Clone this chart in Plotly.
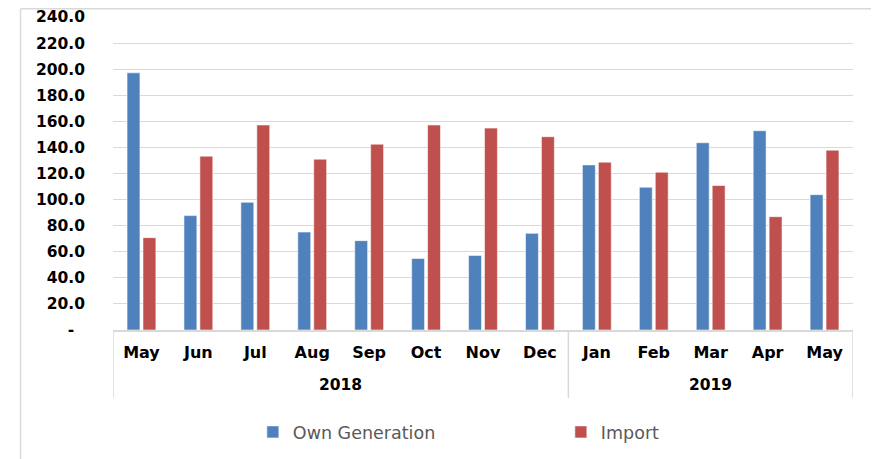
import plotly.graph_objects as go

years = ["2018"] * 8 + ["2019"] * 5
months = ["May", "Jun", "Jul", "Aug", "Sep", "Oct", "Nov", "Dec",
          "Jan", "Feb", "Mar", "Apr", "May"]
own_generation = [197.2, 87.7, 97.9, 75.1, 68.5, 54.8, 57.2, 74.1,
                  126.6, 109.5, 143.6, 152.8, 103.8]
imports = [70.8, 133.3, 157.2, 131.0, 142.5, 157.2, 154.8, 148.2,
           128.7, 121.0, 110.8, 86.9, 137.9]
y_tick_vals = [0, 20, 40, 60, 80, 100, 120, 140, 160, 180, 200, 220, 240]
y_tick_text = ["-\u00a0\u00a0"] + [f"{v:.1f}" for v in y_tick_vals[1:]]

BLUE = "#4F81BD"
RED = "#C0504D"
GRID = "#D9D9D9"

idx = list(range(len(months)))

fig = go.Figure()
fig.add_trace(go.Bar(
    x=idx, y=own_generation, name="Own Generation",
    marker=dict(color=BLUE, line=dict(color="rgba(255,255,255,0.55)", width=1)),
))
fig.add_trace(go.Bar(
    x=idx, y=imports, name="Import",
    marker=dict(color=RED, line=dict(color="rgba(255,255,255,0.55)", width=1)),
))

# year group labels and dividers derived from the data
groups = []
for i, yv in enumerate(years):
    if not groups or groups[-1][0] != yv:
        groups.append([yv, i, i])
    else:
        groups[-1][2] = i

annotations = []
shapes = []
divider_bottom = -0.217
for yv, start, end in groups:
    annotations.append(dict(
        x=(start + end) / 2, xref="x", y=-0.176, yref="paper",
        text=yv, showarrow=False, yanchor="middle",
        font=dict(family="DejaVu Sans", size=15.5, color="black", weight="bold"),
    ))
    shapes.append(dict(type="line", xref="x", yref="paper",
                       x0=start - 0.5, x1=start - 0.5, y0=0, y1=divider_bottom,
                       line=dict(color=GRID, width=1.5)))
shapes.append(dict(type="line", xref="x", yref="paper",
                   x0=groups[-1][2] + 0.5, x1=groups[-1][2] + 0.5,
                   y0=0, y1=divider_bottom, line=dict(color=GRID, width=1.5)))
# chart-area border (left and top)
shapes += [
    dict(type="line", xref="paper", yref="paper",
         x0=-0.125, x1=-0.125, y0=1.026, y1=-0.42,
         line=dict(color=GRID, width=1.5)),
    dict(type="line", xref="paper", yref="paper",
         x0=-0.125, x1=1.04, y0=1.026, y1=1.026,
         line=dict(color=GRID, width=1.5)),
]

fig.update_layout(
    width=871, height=451,
    margin=dict(l=105, r=26, t=9, b=129, autoexpand=False),
    paper_bgcolor="white", plot_bgcolor="white",
    barmode="group", bargap=0.44, bargroupgap=0.19,
    font=dict(family="DejaVu Sans", color="black"),
    showlegend=True,
    legend=dict(
        orientation="h", x=0.189, xanchor="left", y=-0.326, yanchor="middle",
        font=dict(family="DejaVu Sans", size=17.5, color="#595959"),
        entrywidth=263, entrywidthmode="pixels",
        itemwidth=30,
    ),
    annotations=annotations,
    shapes=shapes,
)

fig.update_yaxes(
    range=[0, 240], tickvals=y_tick_vals, ticktext=y_tick_text,
    showgrid=True, gridcolor=GRID, gridwidth=1.3,
    zeroline=False, showline=False, ticks="",
    ticklabelstandoff=27, automargin=False,
    tickfont=dict(family="DejaVu Sans", size=15.5, color="black", weight="bold"),
)
fig.update_xaxes(
    range=[-0.5, len(months) - 0.5],
    tickvals=idx, ticktext=months,
    showgrid=False, zeroline=False,
    showline=True, linecolor=GRID, linewidth=1.5,
    ticks="", ticklabelstandoff=7, automargin=False,
    tickfont=dict(family="DejaVu Sans", size=16, color="black", weight="bold"),
)

fig.write_html("out.html")
